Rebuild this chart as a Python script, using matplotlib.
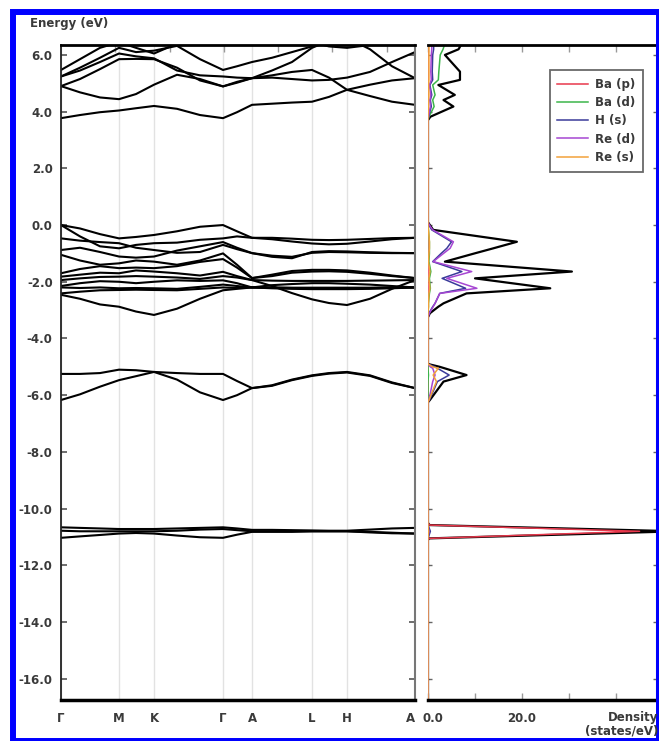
import matplotlib
matplotlib.use('Agg')
import matplotlib.pyplot as plt
import matplotlib.transforms as mtransforms
from matplotlib.patches import Rectangle

plt.rcParams['font.family'] = ['DejaVu Sans']
plt.rcParams['font.weight'] = 'bold'
plt.rcParams['font.size'] = 8.5

# k-path (distance along path) and sample points the bands were read at
kpath_labels = ['Γ', 'M', 'K', 'Γ', 'A', 'L', 'H', 'A']
kpath_pos = [0, 58, 93, 162, 191, 251, 286, 354]
k_samples = [0, 19, 39, 58, 75, 93, 116, 139, 162, 176, 191, 211, 231, 251, 268, 286, 309, 331, 354]

ba_p_bands = [
    [-10.66, -10.68, -10.70, -10.72, -10.72, -10.72, -10.70, -10.68, -10.66, -10.70, -10.75, -10.75, -10.76, -10.77, -10.78, -10.78, -10.74, -10.70, -10.68],
    [-10.78, -10.80, -10.80, -10.80, -10.80, -10.80, -10.78, -10.74, -10.72, -10.76, -10.80, -10.80, -10.80, -10.80, -10.80, -10.80, -10.82, -10.85, -10.88],
    [-11.03, -10.98, -10.93, -10.88, -10.86, -10.88, -10.95, -11.01, -11.03, -10.92, -10.82, -10.82, -10.82, -10.80, -10.80, -10.80, -10.84, -10.87, -10.88],
]

semicore_bands = [
    [-5.25, -5.25, -5.22, -5.10, -5.12, -5.18, -5.22, -5.25, -5.25, -5.50, -5.75, -5.65, -5.45, -5.30, -5.22, -5.18, -5.30, -5.55, -5.75],
    [-6.17, -5.97, -5.70, -5.47, -5.33, -5.18, -5.45, -5.90, -6.17, -6.00, -5.75, -5.67, -5.47, -5.32, -5.24, -5.20, -5.32, -5.57, -5.75],
]

valence_bands = [
    [0.00, -0.12, -0.32, -0.47, -0.42, -0.35, -0.22, -0.06, 0.00, -0.22, -0.45, -0.45, -0.48, -0.52, -0.53, -0.52, -0.49, -0.46, -0.45],
    [0.00, -0.40, -0.75, -0.82, -0.70, -0.64, -0.62, -0.52, -0.47, -0.40, -0.45, -0.50, -0.58, -0.65, -0.68, -0.66, -0.58, -0.50, -0.45],
    [-0.47, -0.55, -0.60, -0.64, -0.80, -0.88, -0.98, -0.95, -0.70, -0.85, -0.99, -1.12, -1.17, -0.95, -0.92, -0.93, -0.96, -0.98, -0.99],
    [-0.88, -0.80, -0.95, -1.11, -1.15, -1.11, -0.90, -0.75, -0.60, -0.80, -0.99, -1.08, -1.12, -0.98, -0.95, -0.96, -0.98, -0.99, -0.99],
    [-1.05, -1.25, -1.40, -1.35, -1.25, -1.29, -1.40, -1.25, -1.00, -1.40, -1.87, -1.75, -1.62, -1.58, -1.58, -1.60, -1.68, -1.78, -1.87],
    [-1.70, -1.55, -1.45, -1.52, -1.50, -1.52, -1.45, -1.30, -1.20, -1.50, -1.87, -1.80, -1.68, -1.64, -1.63, -1.65, -1.72, -1.80, -1.87],
    [-1.82, -1.75, -1.68, -1.70, -1.60, -1.64, -1.70, -1.78, -1.65, -1.80, -1.94, -1.96, -1.97, -1.97, -1.97, -1.97, -1.96, -1.95, -1.94],
    [-1.94, -1.88, -1.83, -1.82, -1.80, -1.82, -1.85, -1.90, -1.80, -1.85, -1.94, -2.15, -2.40, -2.62, -2.75, -2.82, -2.60, -2.25, -1.94],
    [-2.15, -2.05, -1.98, -2.00, -2.05, -2.00, -1.95, -1.97, -1.95, -2.05, -2.20, -2.12, -2.08, -2.05, -2.05, -2.07, -2.10, -2.15, -2.20],
    [-2.20, -2.22, -2.20, -2.23, -2.22, -2.23, -2.25, -2.18, -2.10, -2.15, -2.20, -2.21, -2.22, -2.22, -2.22, -2.22, -2.22, -2.21, -2.20],
    [-2.41, -2.35, -2.30, -2.29, -2.28, -2.29, -2.30, -2.25, -2.20, -2.22, -2.20, -2.23, -2.25, -2.26, -2.26, -2.26, -2.25, -2.23, -2.20],
    [-2.46, -2.60, -2.80, -2.88, -3.05, -3.17, -2.95, -2.60, -2.30, -2.25, -2.20, -2.20, -2.21, -2.21, -2.21, -2.21, -2.21, -2.20, -2.20],
]

conduction_bands = [
    [3.77, 3.88, 3.98, 4.04, 4.12, 4.20, 4.10, 3.88, 3.77, 3.98, 4.24, 4.28, 4.32, 4.35, 4.52, 4.77, 4.55, 4.35, 4.24],
    [4.90, 4.68, 4.50, 4.44, 4.62, 4.95, 5.30, 5.15, 4.89, 5.02, 5.18, 5.28, 5.40, 5.47, 5.20, 4.77, 4.95, 5.10, 5.18],
    [4.90, 5.15, 5.50, 5.85, 5.86, 5.85, 5.55, 5.10, 4.89, 5.05, 5.18, 5.45, 5.75, 6.25, 6.50, 6.60, 6.20, 5.60, 5.18],
    [5.24, 5.45, 5.75, 6.05, 5.95, 5.88, 5.45, 5.28, 5.24, 5.20, 5.18, 5.20, 5.15, 5.10, 5.12, 5.20, 5.40, 5.75, 6.10],
    [5.47, 5.85, 6.25, 6.45, 6.25, 6.05, 6.40, 6.55, 6.60, 6.55, 6.50, 6.50, 6.50, 6.45, 6.30, 6.25, 6.35, 6.50, 6.55],
    [5.24, 5.55, 5.90, 6.25, 6.10, 6.15, 6.32, 5.85, 5.47, 5.60, 5.75, 5.90, 6.10, 6.30, 6.50, 6.50, 6.50, 6.50, 6.50],
]

# projected density of states
dos_energy = [6.35, 6.2, 6.0, 5.41, 5.12, 4.94, 4.59, 4.41, 4.18, 3.82, 3.70,
              0.10, 0.00, -0.17, -0.59, -0.82, -1.00, -1.29, -1.64, -1.88, -2.23,
              -2.41, -2.76, -2.88, -3.11, -3.25, -4.90, -5.00, -5.05, -5.29, -5.52,
              -6.17, -6.25, -10.50, -10.58, -10.80, -11.05, -11.10, -16.75]
dos_total = [7.0, 6.5, 3.6, 6.8, 6.8, 2.2, 5.7, 3.3, 5.4, 0.5, 0.0,
             0.0, 0.4, 1.1, 18.9, 13.9, 9.9, 3.6, 30.6, 10.0, 26.0,
             8.2, 3.3, 2.2, 0.4, 0.0, 0.0, 2.5, 3.5, 8.2, 3.3,
             0.4, 0.0, 0.0, 0.3, 53.0, 0.3, 0.0, 0.0]
dos_ba_p = [0.0] * 34 + [0.3, 45.0, 0.3, 0.0, 0.0]
dos_ba_d = [3.5, 3.2, 2.6, 2.3, 2.2, 1.0, 1.5, 1.0, 1.3, 0.2, 0.0,
            0.0, 0.0, 0.1, 0.3, 0.3, 0.3, 0.2, 0.6, 0.3, 0.5,
            0.3, 0.1, 0.1, 0.0, 0.0, 0.0, 0.0, 0.0, 0.1, 0.0,
            0.0, 0.0, 0.0, 0.0, 0.3, 0.0, 0.0, 0.0]
dos_h_s = [1.2, 1.2, 1.0, 0.9, 1.0, 0.4, 0.8, 0.5, 0.7, 0.1, 0.0,
           0.0, 0.2, 0.8, 5.0, 4.0, 2.8, 1.0, 7.2, 3.0, 8.0,
           2.5, 1.5, 1.0, 0.2, 0.0, 0.0, 1.5, 2.0, 4.5, 2.0,
           0.3, 0.0, 0.0, 0.0, 0.5, 0.0, 0.0, 0.0]
dos_re_d = [0.8, 0.8, 0.7, 0.6, 0.7, 0.3, 0.6, 0.4, 0.5, 0.1, 0.0,
            0.0, 0.3, 1.0, 5.4, 4.7, 3.3, 1.1, 9.3, 4.0, 10.4,
            2.5, 1.5, 1.1, 0.3, 0.0, 0.0, 0.5, 1.0, 1.5, 1.0,
            0.2, 0.0, 0.0, 0.0, 0.2, 0.0, 0.0, 0.0]
dos_re_s = [0.2, 0.2, 0.2, 0.2, 0.2, 0.1, 0.2, 0.1, 0.1, 0.0, 0.0,
            0.0, 0.0, 0.1, 0.3, 0.3, 0.2, 0.1, 0.4, 0.2, 0.4,
            0.2, 0.1, 0.1, 0.0, 0.0, 0.0, 1.0, 2.2, 1.1, 1.8,
            0.2, 0.0, 0.0, 0.0, 0.1, 0.0, 0.0, 0.0]

pdos_labels = ['Ba (p)', 'Ba (d)', 'H (s)', 'Re (d)', 'Re (s)']
pdos_values = [dos_ba_p, dos_ba_d, dos_h_s, dos_re_d, dos_re_s]
pdos_colors = ['#e8384c', '#3cb54a', '#3a3a9a', '#a646d2', '#f2a23a']

energy_ticks = [6, 4, 2, 0, -2, -4, -6, -8, -10, -12, -14, -16]
dos_ticks = [0, 10, 20, 30, 40]
dos_ticklabels = ['0.0', '', '20.0', '', '']

txt = '#3a3a3a'
W, H = 659.0, 741.0


def px_box(x0, y0, x1, y1):
    return [x0 / W, 1 - y1 / H, (x1 - x0) / W, (y1 - y0) / H]


def nudge(label, dx):
    label.set_transform(label.get_transform() +
                        mtransforms.ScaledTranslation(dx / 100.0, 0, fig.dpi_scale_trans))


fig = plt.figure(figsize=(W / 100, H / 100), dpi=100)
ax = fig.add_axes(px_box(61, 45, 415, 700))
ax2 = fig.add_axes(px_box(428, 45, 657, 700))

# band structure
for k in kpath_pos:
    ax.axvline(k, color='#e2e2e2', lw=1, zorder=0)
for band in ba_p_bands + semicore_bands + valence_bands + conduction_bands:
    ax.plot(k_samples, band, color='black', lw=1.5, solid_joinstyle='round')

ax.set_xlim(0, 354)
ax.set_ylim(-16.75, 6.35)
ax.set_xticks(kpath_pos)
ax.set_xticklabels(kpath_labels)
ax.tick_params(axis='x', length=0, pad=9, labelcolor=txt)
ax.set_yticks(energy_ticks)
ax.set_yticklabels(['%.1f' % e for e in energy_ticks])
ax.tick_params(axis='y', direction='in', length=4, width=1.2, color='#555555',
               left=True, right=True, labelcolor=txt, pad=6)
ax.spines['top'].set_linewidth(2)
ax.spines['bottom'].set_linewidth(2.5)
ax.spines['left'].set_linewidth(1.3)
ax.spines['left'].set_color('#222222')
ax.spines['right'].set_linewidth(1.5)
ax.spines['right'].set_color('#777777')

top = ax.secondary_xaxis('top')
top.set_xticks([54, 109, 163, 217, 271, 326])
top.tick_params(direction='in', length=5, width=1, color='#999999', labeltop=False)
top.spines['top'].set_visible(False)

# density of states
ax2.plot(dos_total, dos_energy, color='black', lw=1.6, solid_joinstyle='round')
for vals, lab, col in zip(pdos_values, pdos_labels, pdos_colors):
    ax2.plot(vals, dos_energy, color=col, lw=1.1, label=lab)

ax2.set_xlim(0, 48.7)
ax2.set_ylim(-16.75, 6.35)
ax2.set_xticks(dos_ticks)
ax2.set_xticklabels(dos_ticklabels)
ax2.tick_params(axis='x', direction='in', length=5, width=1, color='#999999',
                top=True, bottom=True, pad=9, labelcolor=txt)
ax2.set_yticks(energy_ticks)
ax2.tick_params(axis='y', direction='in', length=3, width=1, color='#666666',
                left=True, right=True, labelleft=False)
ax2.spines['left'].set_visible(False)
ax2.spines['top'].set_linewidth(2)
ax2.spines['bottom'].set_linewidth(2.5)
ax2.spines['right'].set_linewidth(1.5)
ax2.spines['right'].set_color('#777777')

nudge(ax.get_xticklabels()[-1], -5)
nudge(ax2.get_xticklabels()[0], 5)

leg = ax2.legend(loc='upper right', bbox_to_anchor=((643 - 428) / 229.0, (700 - 70) / 655.0),
                 borderaxespad=0, fancybox=False, handlelength=2.6, labelspacing=0.45,
                 borderpad=0.65, handletextpad=0.6)
leg.get_frame().set_edgecolor('#444444')
leg.get_frame().set_linewidth(1.3)
for t in leg.get_texts():
    t.set_color(txt)

fig.text(30 / W, 1 - 23 / H, 'Energy (eV)', ha='left', va='center', color=txt)
fig.text(658 / W, 1 - 717 / H, 'Density', ha='right', va='center', color=txt)
fig.text(658 / W, 1 - 731 / H, '(states/eV)', ha='right', va='center', color=txt)

fig.add_artist(Rectangle((13 / W, 0), 1 - 13 / W, 1 - 12 / H, transform=fig.transFigure,
                         fill=False, edgecolor='#0000ff', linewidth=4.3))

fig.savefig('out.png', dpi=100)
